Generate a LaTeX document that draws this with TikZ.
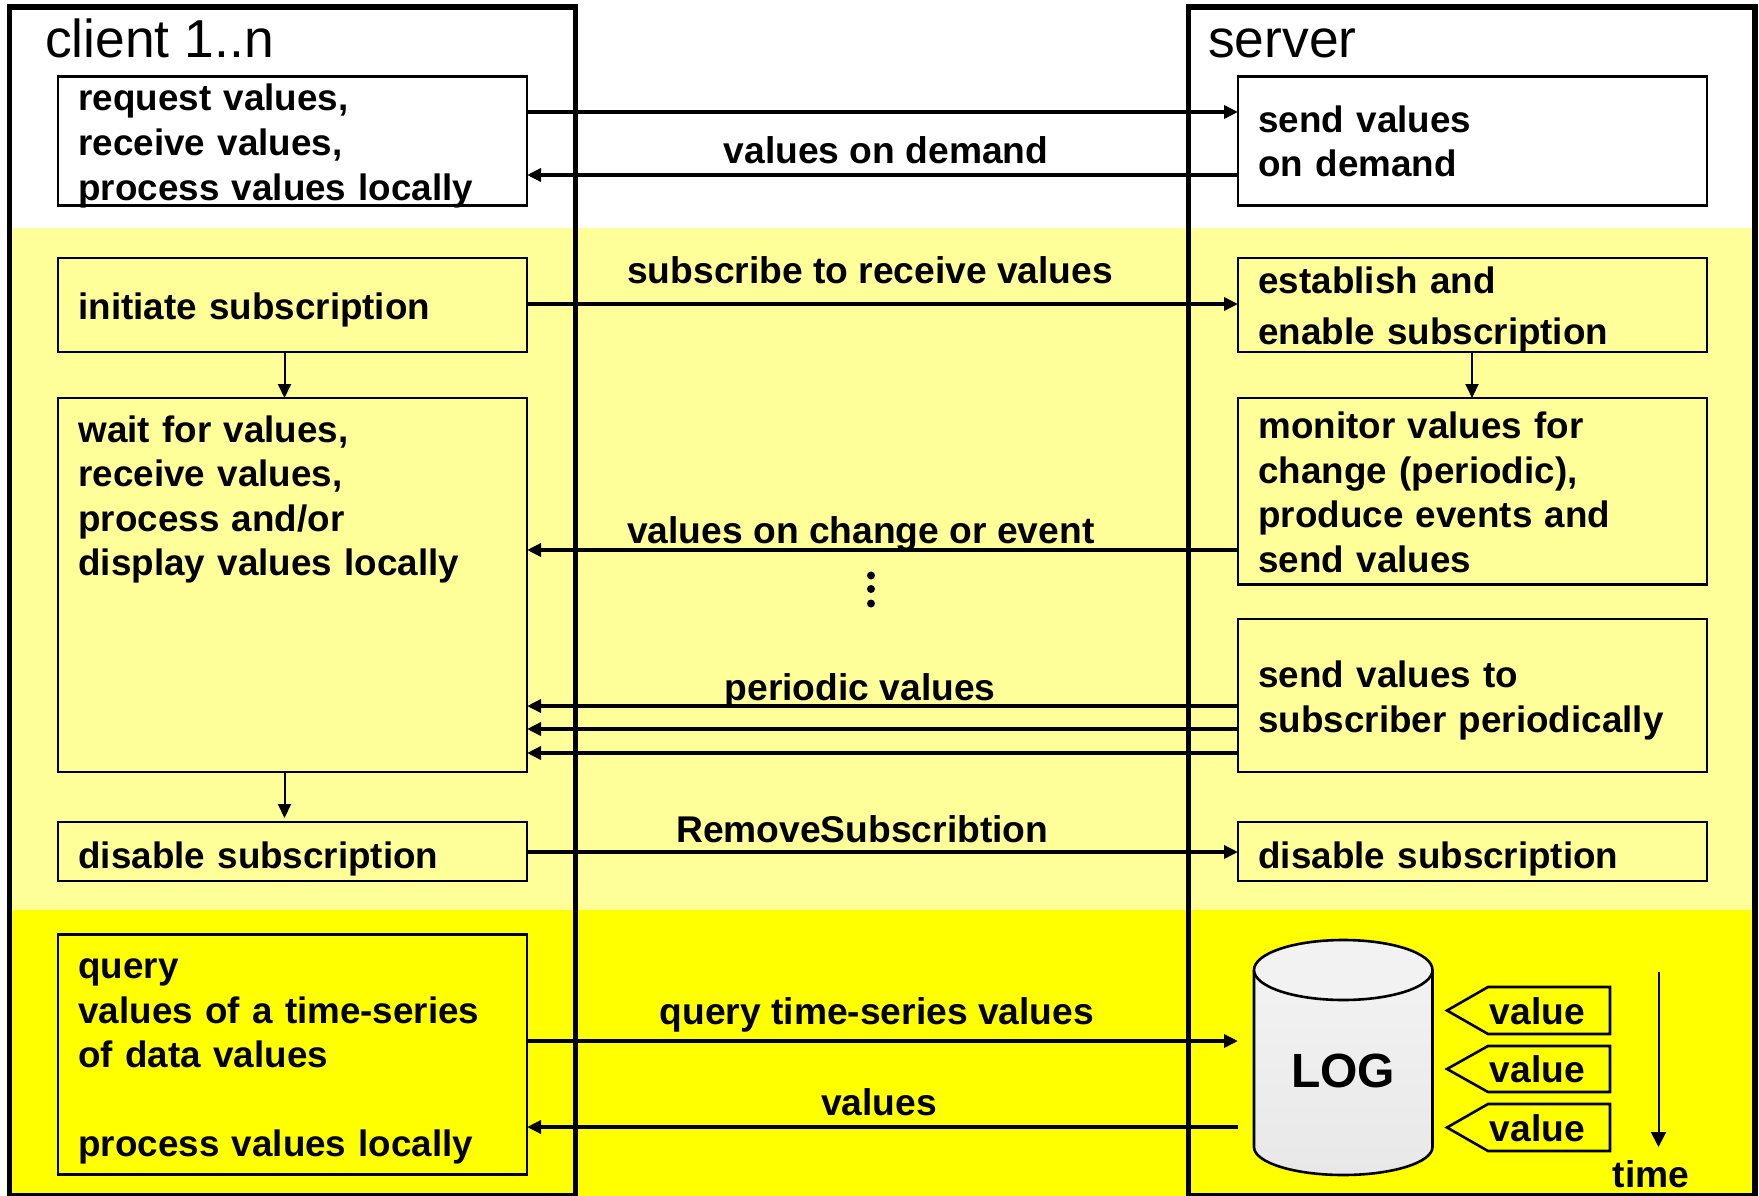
\documentclass[tikz,border=0pt]{standalone}
\usepackage{fontspec}
\setmainfont{Liberation Sans}
\usetikzlibrary{arrows.meta}
\definecolor{lightband}{HTML}{FFFF99}
\definecolor{brightband}{HTML}{FFFF00}
\newcommand{\blankline}{\mbox{}}
\tikzset{
  x=1pt,y=-1pt,
  frame/.style={draw=black,line width=5.4pt},
  procbox/.style={draw=black,line width=2.2pt,outer sep=0pt,inner xsep=20.5pt,inner ysep=0pt,
    minimum width=469pt,text width=428pt,align=left,anchor=north west,
    font=\fontsize{36.8pt}{44.6pt}\selectfont\bfseries},
  msg/.style={-{Triangle[length=14pt,width=13pt]},line width=3.4pt,draw=black},
  stepflow/.style={-{Triangle[length=14pt,width=13pt]},line width=2pt,draw=black},
  lab/.style={anchor=base west,inner sep=0pt,font=\fontsize{37.2pt}{44.6pt}\selectfont\bfseries},
  title/.style={anchor=base west,inner sep=0pt,font=\fontsize{53.4pt}{60pt}\selectfont},
  dotmark/.style={circle,fill=black,inner sep=0pt,minimum size=8pt},
  flag/.style={draw=black,line width=2.6pt,fill=brightband},
}
\begin{document}
\begin{tikzpicture}
\useasboundingbox (0,0) rectangle (1759,1196);
\fill[white] (0,0) rectangle (1759,1196);
\fill[lightband] (7,228) rectangle (1753,910);
\fill[brightband] (7,910) rectangle (1753,1196);

% left column
\node[procbox,minimum height=129pt,text height=34.5pt,text depth=94.5pt] (c1) at (58,76.5) {request values,\\receive values,\\process values locally};
\node[procbox,minimum height=94pt,text height=61.7pt,text depth=32.3pt] (c2) at (58,258) {initiate subscription};
\node[procbox,minimum height=374pt,text height=44pt,text depth=330pt] (c3) at (58,398) {wait for values,\\receive values,\\process and/or\\display values locally};
\node[procbox,minimum height=59pt,text height=46.3pt,text depth=12.7pt] (c4) at (58,822) {disable subscription};
\node[procbox,minimum height=240pt,text height=44pt,text depth=196pt] (c5) at (58,934.5) {query\\values of a time-series\\of data values\\\blankline\\process values locally};

% right column
\node[procbox,minimum height=129pt,text height=55.9pt,text depth=73.1pt] (s1) at (1238,76.5) {send values\\on demand};
\node[procbox,minimum height=94pt,text height=35.5pt,text depth=58.5pt] (s2) at (1238,258) {establish and\\[6.8pt]enable subscription};
\node[procbox,minimum height=186.5pt,text height=40.6pt,text depth=145.9pt] (s3) at (1238,398) {monitor values for\\change (periodic),\\produce events and\\send values};
\node[procbox,minimum height=153pt,text height=68.7pt,text depth=84.3pt] (s4) at (1238,619) {send values to\\subscriber periodically};
\node[procbox,minimum height=59pt,text height=46.3pt,text depth=12.7pt] (s5) at (1238,822) {disable subscription};

% frames
\draw[frame] (9.5,7) -- (575.5,7) -- (575.5,1195.5) -- (9.5,1195.5) -- cycle;
\draw[frame] (1188.5,7) -- (1755,7) -- (1755,1195.5) -- (1188.5,1195.5) -- cycle;
\node[title] (tc) at (45,57.5) {client 1..n};
\node[title] (ts) at (1208,57.5) {server};

% log store
\draw[line width=2.6pt,draw=black,top color=black!5,bottom color=black!9]
  (1254,970) -- (1254,1147) arc[start angle=180,end angle=360,x radius=89.25pt,y radius=28pt] -- (1432.5,970);
\draw[line width=2.6pt,draw=black,fill=black!5] (1343.25,970) ellipse[x radius=89.25pt,y radius=30pt];
\node[anchor=base,inner sep=0pt,font=\fontsize{48pt}{50pt}\selectfont\bfseries] (log) at (1343,1087) {LOG};
\coordinate (login) at (1238,1041);
\coordinate (logout) at (1238,1127);

% value flags
\draw[flag] (1447,1010.5) -- (1488,987) -- (1610,987) -- (1610,1034) -- (1488,1034) -- cycle;
\draw[flag] (1447,1069) -- (1488,1046) -- (1610,1046) -- (1610,1092) -- (1488,1092) -- cycle;
\draw[flag] (1447,1127.5) -- (1488,1104) -- (1610,1104) -- (1610,1151) -- (1488,1151) -- cycle;
\node[lab,anchor=base] (v1) at (1537.5,1024) {value};
\node[lab,anchor=base] (v2) at (1537.5,1082) {value};
\node[lab,anchor=base] (v3) at (1537.5,1141) {value};

% time
\node[lab,anchor=base] (timetxt) at (1651,1187) {time};
\coordinate (timestart) at (1658.5,972);
\coordinate (timeend) at (1658.5,1147);
\draw[-{Triangle[length=15pt,width=15pt]},line width=2pt] (timestart) -- (timeend);

% messages
\draw[msg] (c1.east |- 0,112) -- (s1.west |- 0,112);
\draw[msg] (s1.west |- 0,175) -- (c1.east |- 0,175);
\draw[msg] (c2.east |- 0,304) -- (s2.west |- 0,304);
\draw[msg] (s3.west |- 0,550) -- (c3.east |- 0,550);
\draw[msg] (s4.west |- 0,706) -- (c3.east |- 0,706);
\draw[msg] (s4.west |- 0,729) -- (c3.east |- 0,729);
\draw[msg] (s4.west |- 0,753) -- (c3.east |- 0,753);
\draw[msg] (c4.east |- 0,852) -- (s5.west |- 0,852);
\draw[msg] (c5.east |- 0,1041) -- (login);
\draw[msg] (logout) -- (c5.east |- 0,1127);

% sequence arrows
\coordinate (c4in) at (284.5,818);
\draw[stepflow] (284.5,0 |- c2.south) -- (284.5,0 |- c3.north);
\draw[stepflow] (284.5,0 |- c3.south) -- (c4in);
\draw[stepflow] (1472,0 |- s2.south) -- (1472,0 |- s3.north);

% message labels
\node[lab] (l1) at (723.5,164) {values on demand};
\node[lab] (l2) at (627,283) {subscribe to receive values};
\node[lab] (l3) at (627,543) {values on change or event};
\node[lab] (l4) at (724.5,700) {periodic values};
\node[lab] (l5) at (676,842) {RemoveSubscribtion};
\node[lab] (l6) at (659.5,1024) {query time-series values};
\node[lab] (l7) at (821,1115) {values};
\node[dotmark] (d1) at (871,575.5) {};
\node[dotmark] (d2) at (871,589) {};
\node[dotmark] (d3) at (871,603.5) {};
\end{tikzpicture}
\end{document}
